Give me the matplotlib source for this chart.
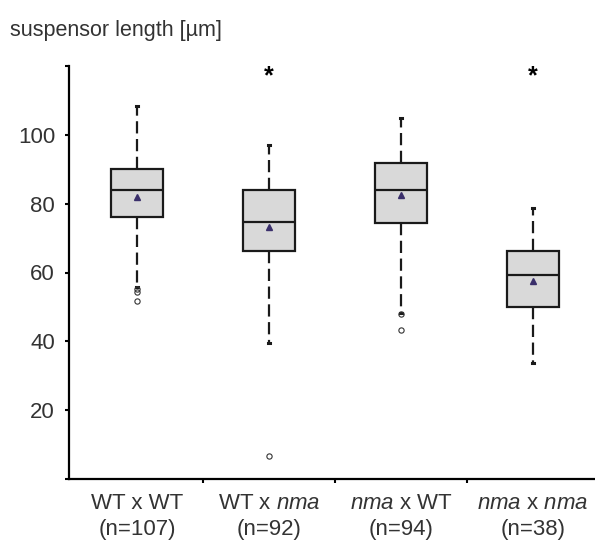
import matplotlib
matplotlib.use("Agg")
import matplotlib.pyplot as plt
from matplotlib.ticker import FixedLocator, FixedFormatter

plt.rcParams['font.family'] = ['Liberation Sans', 'DejaVu Sans']
plt.rcParams['mathtext.fontset'] = 'custom'
plt.rcParams['mathtext.it'] = 'Liberation Sans:italic'
plt.rcParams['mathtext.rm'] = 'Liberation Sans'

# ---- data ----
categories = ["WT x WT\n(n=107)", "WT x $\\it{nma}$\n(n=92)",
              "$\\it{nma}$ x WT\n(n=94)", "$\\it{nma}$ x $\\it{nma}$\n(n=38)"]
q1 = [76.2, 66.3, 74.5, 50.0]
med = [84.1, 74.8, 84.1, 59.3]
q3 = [90.2, 84.1, 91.7, 66.3]
whislo = [55.8, 39.5, 48.3, 33.7]
whishi = [108.3, 97.0, 104.8, 78.6]
means = [82.0, 73.3, 82.4, 57.6]
fliers = [[55.2, 54.3, 51.8], [6.6], [48.0, 43.4], []]
significant = [False, True, False, True]
yticks = [0, 20, 40, 60, 80, 100, 120]
yticklabels = ["", "20", "40", "60", "80", "100", ""]

stats = []
for i in range(len(categories)):
    stats.append(dict(q1=q1[i], med=med[i], q3=q3[i], whislo=whislo[i],
                      whishi=whishi[i], mean=means[i], fliers=fliers[i]))

W, H = 595, 543
fig = plt.figure(figsize=(W / 100, H / 100), dpi=100)
ax = fig.add_axes([69 / W, 1 - 479 / H, (595 - 69) / W, (479 - 66) / H])

positions = [1, 2, 3, 4]
ax.bxp(stats, positions=positions, widths=0.4, capwidths=0.02,
       showmeans=True, patch_artist=True,
       boxprops=dict(facecolor='#d9d9d9', edgecolor='#1a1a1a', linewidth=1.6),
       medianprops=dict(color='#1a1a1a', linewidth=1.6),
       whiskerprops=dict(color='#1a1a1a', linewidth=1.6, linestyle=(0, (5.5, 2.5))),
       capprops=dict(color='#1a1a1a', linewidth=2.2),
       meanprops=dict(marker='^', markersize=4.5, markerfacecolor='#3a2f6b',
                      markeredgecolor='#3a2f6b'),
       flierprops=dict(marker='o', markersize=3.8, markerfacecolor='none',
                       markeredgecolor='#333333', markeredgewidth=0.8))

for p, s in zip(positions, significant):
    if s:
        ax.text(p, 117, "*", ha='center', va='center', fontsize=18,
                fontweight='bold', color='black')

ax.set_xlim(0.485, 4.47)
ax.set_ylim(0, 120)

ax.xaxis.set_major_locator(FixedLocator(positions))
ax.set_xticklabels(categories, linespacing=1.3)
ax.xaxis.set_minor_locator(FixedLocator([1.5, 2.5, 3.5]))
ax.tick_params(axis='x', which='major', length=0, pad=10, labelsize=16,
               labelcolor='#333333')
ax.tick_params(axis='x', which='minor', length=3, width=1.5, direction='out',
               color='black')

ax.yaxis.set_major_locator(FixedLocator(yticks))
ax.yaxis.set_major_formatter(FixedFormatter(yticklabels))
ax.tick_params(axis='y', length=3, width=1.5, direction='out', pad=7,
               labelsize=16, labelcolor='#333333', color='black')

for side in ['top', 'right']:
    ax.spines[side].set_visible(False)
for side in ['left', 'bottom']:
    ax.spines[side].set_linewidth(1.6)
    ax.spines[side].set_color('black')

fig.text(10 / W, 1 - 36 / H, "suspensor length [µm]", ha='left', va='baseline',
         fontsize=15.5, color='#333333')

fig.savefig("out.png", dpi=100)
